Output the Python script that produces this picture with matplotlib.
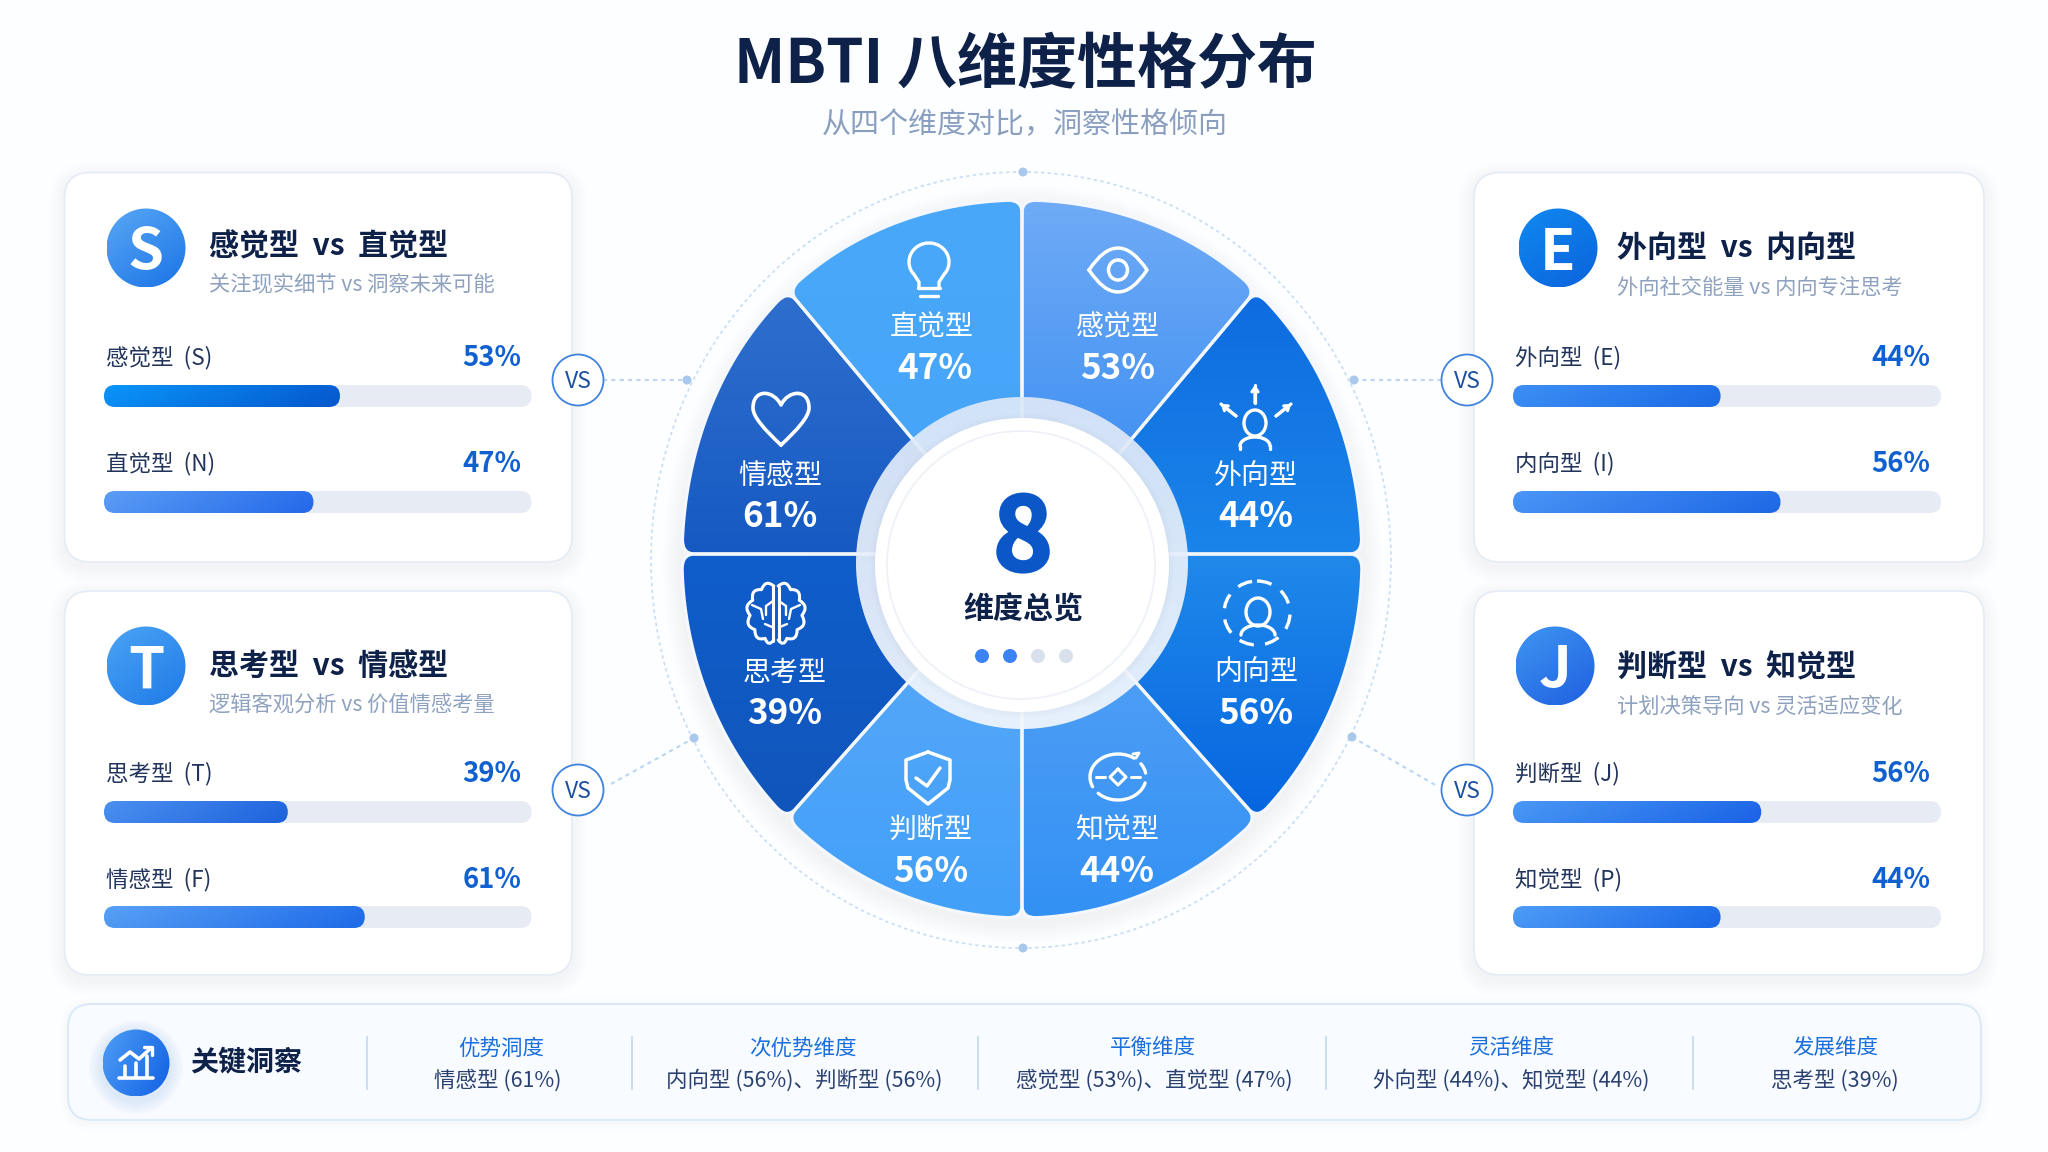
import matplotlib
matplotlib.use('Agg')
import matplotlib.pyplot as plt
import matplotlib.patheffects as pe
import numpy as np
from matplotlib.colors import to_rgb
from matplotlib.patches import Circle, Ellipse, FancyBboxPatch, PathPatch
from matplotlib.path import Path

plt.rcParams['font.family'] = ['Noto Sans CJK SC', 'DejaVu Sans']

# data
sector_names = ['感觉型', '外向型', '内向型', '知觉型', '判断型', '思考型', '情感型', '直觉型']
sector_vals = [53, 44, 56, 44, 56, 39, 61, 47]
sector_top = ['#6fabf6', '#0e6ce0', '#2089ea', '#5aa4f4', '#5caaf9', '#0f5ecb', '#2e6fcd', '#4aa8fa']
sector_bot = ['#2f86f1', '#1b86ea', '#0666e0', '#3391f5', '#42a0f8', '#1155bb', '#1558c2', '#45a4f8']

card_letters = ['S', 'T', 'E', 'J']
card_titles = ['感觉型  vs  直觉型', '思考型  vs  情感型', '外向型  vs  内向型', '判断型  vs  知觉型']
card_subs = ['关注现实细节 vs 洞察未来可能', '逻辑客观分析 vs 价值情感考量',
             '外向社交能量 vs 内向专注思考', '计划决策导向 vs 灵活适应变化']
row_labels = [['感觉型  (S)', '直觉型  (N)'], ['思考型  (T)', '情感型  (F)'],
              ['外向型  (E)', '内向型  (I)'], ['判断型  (J)', '知觉型  (P)']]
row_pcts = [[53, 47], [39, 61], [44, 56], [56, 44]]
# drawn bar lengths do not follow the printed percent exactly in the picture
row_fill = [[0.552, 0.49], [0.43, 0.61], [0.485, 0.625], [0.58, 0.485]]
row_c0 = [['#0a95fa', '#5b9df5'], ['#4a90f0', '#58a0f5'], ['#3d8ff5', '#4a95f6'], ['#4a98f5', '#4d9cf6']]
row_c1 = [['#0557cc', '#2468ea'], ['#1e62dc', '#1d6ae8'], ['#1b6be5', '#1e68e6'], ['#1a62e6', '#1a68e8']]
icon_c0 = ['#58a8f5', '#4ba4f4', '#1089f0', '#3f96f2']
icon_c1 = ['#1c74e6', '#1f7ae8', '#0b63dc', '#1f5fe0']

insight_heads = ['优势洞度', '次优势维度', '平衡维度', '灵活维度', '发展维度']
insight_vals = ['情感型 (61%)', '内向型 (56%)、判断型 (56%)', '感觉型 (53%)、直觉型 (47%)',
                '外向型 (44%)、知觉型 (44%)', '思考型 (39%)']

NAVY = '#0e2149'
W = 'white'

fig = plt.figure(figsize=(20.48, 11.52), dpi=100, facecolor='#fdfeff')
ax = fig.add_axes([0, 0, 1, 1])
ax.set_axis_off()


def px(size):
    return size * 0.72


def label(x, y, s, size, c, ha='center', bold=False, z=6):
    # Noto sits a little high when centred, push it down
    return ax.text(x, y + 3.5, s, color=c, fontsize=px(size), ha=ha, va='center', zorder=z,
                   fontweight='bold' if bold else 'normal')


def grad(patch, c0, c1, ang=90, z=3, alpha=1.0):
    # gradient image clipped to a patch, ang 90 = top to bottom
    patch.set(facecolor='none', edgecolor='none', zorder=z)
    ax.add_patch(patch)
    ext = patch.get_patch_transform().transform_path(patch.get_path()).get_extents()
    yy, xx = np.mgrid[0:1:64j, 0:1:64j]
    a = np.deg2rad(ang)
    t = xx * np.cos(a) + yy * np.sin(a)
    t = (t - t.min()) / (t.max() - t.min())
    c0, c1 = np.array(to_rgb(c0)), np.array(to_rgb(c1))
    img = c0 + (c1 - c0) * t[..., None]
    im = ax.imshow(img, extent=(ext.x0, ext.x1, ext.y1, ext.y0), aspect='auto',
                   interpolation='bilinear', zorder=z, alpha=alpha)
    im.set_clip_path(patch)


def rbox(x0, y0, x1, y1, r, **kw):
    return FancyBboxPatch((x0, y0), x1 - x0, y1 - y0, boxstyle=f'round,pad=0,rounding_size={r}', **kw)


def soft_box(x0, y0, x1, y1, r, color='#bccde6', n=10, spread=16, dy=5, a=0.011):
    for i in range(n, 0, -1):
        g = spread * i / n
        ax.add_patch(rbox(x0 - g, y0 - g + dy, x1 + g, y1 + g + dy, r + g, fc=color, ec='none', alpha=a, zorder=1))


def line(xs, ys, lw=2.6, c=W, z=6, **kw):
    ax.plot(xs, ys, color=c, lw=lw, zorder=z, solid_capstyle='round', solid_joinstyle='round', **kw)


def ring(x, y, rx, ry, lw=2.6, c=W, z=6, fc='none', **kw):
    ax.add_patch(Ellipse((x, y), 2 * rx, 2 * ry, fc=fc, ec=c, lw=lw, zorder=z, **kw))


def curve(verts, codes, lw=2.6, z=6):
    ax.add_patch(PathPatch(Path(verts, codes), fc='none', ec=W, lw=lw, zorder=z, capstyle='round', joinstyle='round'))


def arc(x, y, rx, ry, t0, t1, lw=2.6, c=W, z=6):
    t = np.deg2rad(np.linspace(t0, t1, 60))
    line(x + rx * np.cos(t), y - ry * np.sin(t), lw, c, z)


def shoulders(x, y, hw, top):
    t = np.deg2rad(np.linspace(180, 0, 30))
    line(x + hw * np.cos(t), (top + 9) - 9 * np.sin(t), 2.4)
    line([x - hw, x - hw], [top + 9, y], 2.4)
    line([x + hw, x + hw], [top + 9, y], 2.4)


def bulb(x, y):
    arc(x, y - 5, 20, 19, -35, 215, 2.4)
    line([x - 16, x - 10, x - 10], [y + 6, y + 15, y + 21], 2.4)
    line([x + 16, x + 10, x + 10], [y + 6, y + 15, y + 21], 2.4)
    line([x - 11, x + 11], [y + 21, y + 21], 2.4)
    line([x - 9, x + 9], [y + 29, y + 29], 2.4)


def eye(x, y):
    m, c = Path.MOVETO, Path.CURVE3
    curve([(x - 29, y), (x, y - 44), (x + 29, y), (x, y + 44), (x - 29, y)], [m, c, c, c, c], lw=2.5)
    ring(x, y, 9.5, 10, 2.5)


def person_out(x, y):
    ring(x, y - 4, 11, 13, 2.4)
    shoulders(x, y + 22, 15, y + 10)
    for x0, y0, x1, y1 in [(x, y - 24, x, y - 42), (x - 19, y - 11, x - 34, y - 23), (x + 21, y - 11, x + 36, y - 23)]:
        line([x0, x1], [y0, y1], 2.3)
        ax.annotate('', (x1, y1), (x0, y0), zorder=6,
                    arrowprops=dict(arrowstyle='->,head_width=0.22,head_length=0.3', color=W, lw=2.3, shrinkA=0, shrinkB=0))


def heart(x, y):
    m, c = Path.MOVETO, Path.CURVE4
    curve([(x, y + 25), (x - 16, y + 10), (x - 28, y - 3), (x - 28, y - 12), (x - 28, y - 32), (x - 7, y - 30),
           (x, y - 15), (x + 7, y - 30), (x + 28, y - 32), (x + 28, y - 12), (x + 28, y - 3), (x + 16, y + 10), (x, y + 25)],
          [m] + [c] * 12, lw=2.6)


def brain(x, y):
    for s in (-1, 1):
        angs = np.deg2rad(np.array([92, 60, 28, -5, -38, -70, -92]))
        xs = x + s * 3 + s * 23 * np.cos(angs)
        ys = y - 27 * np.sin(angs)
        v = [(xs[0], ys[0])]
        cd = [Path.MOVETO]
        for i in range(6):
            mid = (angs[i] + angs[i + 1]) / 2
            v += [(x + s * 3 + s * 31 * np.cos(mid), y - 35 * np.sin(mid)), (xs[i + 1], ys[i + 1])]
            cd += [Path.CURVE3, Path.CURVE3]
        curve(v, cd, lw=2.2)
        line([x + s * 3, x + s * 3], [y - 26, y + 28], 2.2)
        line([x + s * 3, x + s * 10, x + s * 10], [y - 12, y - 7, y + 2], 1.7)
        line([x + s * 24, x + s * 15, x + s * 13], [y - 8, y - 4, y + 6], 1.7)
        line([x + s * 4, x + s * 11], [y + 14, y + 11], 1.7)


def person_dash(x, y):
    ax.add_patch(Ellipse((x, y), 66, 64, fc='none', ec=W, lw=2.4, zorder=6, linestyle=(0, (4.5, 3.4))))
    ring(x + 1, y - 1, 12, 14, 2.4)
    arc(x + 1, y + 22, 17, 10, 180, 0, 2.4)


def shield(x, y):
    line([x, x + 22, x + 22, x + 20, x, x - 20, x - 22, x - 22, x],
         [y - 25, y - 17, y + 3, y + 11, y + 27, y + 11, y + 3, y - 17, y - 25], 2.5)
    line([x - 12, x - 1, x + 12], [y + 1, y + 9, y - 9], 2.5)


def compass(x, y):
    arc(x, y, 28, 23, 55, 205, 2.4)
    arc(x, y, 28, 23, 225, 345, 2.4)
    arc(x, y, 28, 23, 10, 35, 2.4)
    line([x + 18, x + 21, x + 15], [y - 19, y - 24, y - 23], 2.1)
    line([x, x + 8, x, x - 8, x], [y - 8, y, y + 8, y, y - 8], 2.2)
    line([x - 22, x - 13], [y, y], 2.2)
    line([x + 13, x + 22], [y, y], 2.2)


# outer dashed orbit
ax.add_patch(Ellipse((1021, 560), 740, 776, fc='none', ec='#c8dcf4', lw=1.2, ls=(0, (2, 2)), zorder=1))

# wheel shadow
CX, CY, RX, RY = 1022, 559, 340, 359
for i in range(12, 0, -1):
    g = 20 * i / 12
    ax.add_patch(Ellipse((CX, CY + 5), 2 * (RX + g), 2 * (RY + g), fc='#a9c6f0', ec='none', alpha=0.012, zorder=1))

# sector boundaries, clockwise from 12 o'clock
b_ang = [90, 47.4, 0.8, -46.3, -90, -133.7, -180.8, -227.4, -270]
b_apex = [559, 570, 554, 554, 559, 554, 554, 570, 559]


def E(t):
    t = np.deg2rad(t)
    # upper half of the wheel bulges a bit on the diagonals
    k = 1 + 0.016 * np.sin(2 * t) ** 2 if np.sin(t) > 0 else 1
    return np.array([CX + k * RX * np.cos(t), CY - k * RY * np.sin(t)])


def sector_path(i):
    a, b = b_ang[i], b_ang[i + 1]
    apex_a = np.array([CX, b_apex[i]], float)
    apex_b = np.array([CX, b_apex[i + 1]], float)
    Ea, Eb = E(a), E(b)
    ua = (apex_a - Ea) / np.linalg.norm(apex_a - Ea)
    ub = (apex_b - Eb) / np.linalg.norm(apex_b - Eb)
    d = 2.4
    ts = np.linspace(a - d, b + d, 50)
    v = [apex_a, Ea + ua * 13, Ea, E(a - d)] + [E(t) for t in ts[1:]] + [Eb, Eb + ub * 13, apex_b, apex_a]
    cd = [Path.MOVETO, Path.LINETO, Path.CURVE3, Path.CURVE3] + [Path.LINETO] * (len(ts) - 1) + \
         [Path.CURVE3, Path.CURVE3, Path.LINETO, Path.CLOSEPOLY]
    return Path(np.array(v), cd)


for i in range(8):
    p = sector_path(i)
    grad(PathPatch(p), sector_top[i], sector_bot[i], 90, z=3)
    ax.add_patch(PathPatch(p, fc='none', ec='#f4f8fe', lw=2.3, zorder=4))

# sector icons and labels, same order as sector_names
sector_lx = [1118, 1256, 1256, 1117, 931, 785, 780, 932]
sector_ly = [325, 473, 670, 828, 828, 670, 473, 325]
sector_icon = [(eye, 1118, 270), (person_out, 1255, 427), (person_dash, 1257, 613), (compass, 1118, 777),
               (shield, 928, 777), (brain, 776, 613), (heart, 781, 420), (bulb, 929, 267)]
for i in range(8):
    f, ix, iy = sector_icon[i]
    f(ix, iy)
    label(sector_lx[i], sector_ly[i] - 1, sector_names[i], 28, W)
    label(sector_lx[i] + (3 if i == 7 else 0), sector_ly[i] + 40, f'{sector_vals[i]}%', 35, W, bold=True)

# hub
grad(Circle((1022, 563), 166), '#dde8f8', '#f4f8fe', 90, z=7, alpha=0.93)
for i in range(6, 0, -1):
    ax.add_patch(Circle((1022, 566), 147 + i, fc='#c4d5ee', ec='none', alpha=0.02, zorder=7))
ax.add_patch(Circle((1022, 565), 147, fc='white', ec='none', zorder=8))
ax.add_patch(Circle((1021, 565), 134, fc='none', ec='#eef2f8', lw=1.3, zorder=8))
t8 = label(1023, 537, '8', 102, '#0b57c8', bold=True, z=9)
t8.set_path_effects([pe.withStroke(linewidth=2, foreground='#0b57c8')])
label(1023, 606, '维度总览', 30, NAVY, bold=True, z=9)
for x, c in zip([982, 1010, 1038, 1066], ['#3b82f6', '#3b82f6', '#d8e0ec', '#d8e0ec']):
    ax.add_patch(Circle((x, 656), 7, fc=c, ec='none', zorder=9))

# small dots on orbit and connectors to the VS badges
for x, y in [(1023, 172), (1023, 948), (687, 380), (1354, 380), (694, 738), (1352, 737)]:
    ax.add_patch(Circle((x, y), 4.5, fc='#a9c8ec', ec='none', zorder=2))
for xs, ys in [((603, 687), (380, 380)), ((1354, 1441), (380, 380)), ((611, 694), (784, 738)), ((1352, 1437), (737, 786))]:
    ax.plot(xs, ys, color='#bcd6f2', lw=1.5, ls=(0, (2, 2)), zorder=1)

# comparison cards: left column then right column
card_x = [(64.5, 572), (64.5, 572), (1474, 1984), (1474, 1984)]
card_y = [(172.5, 562), (591, 975), (172.5, 562), (591, 975)]
icon_xy = [(146, 248), (146, 666), (1558, 248), (1555, 666)]
title_x = [209, 209, 1617, 1617]
title_y = [243, 662, 244, 664]
sub_y = [281, 701, 284, 703]
track_x = [(104, 531.5), (104, 531.5), (1513, 1941), (1513, 1941)]
row_y = [(354, 460), (770, 876), (354, 460), (770, 876)]
track_y = [(385, 491), (801, 906), (385, 491), (801, 906)]
pct_x = [521, 521, 1930, 1930]
label_x = [106, 106, 1515, 1515]

for k in range(4):
    x0, x1 = card_x[k]
    y0, y1 = card_y[k]
    soft_box(x0, y0, x1, y1, 26)
    ax.add_patch(rbox(x0, y0, x1, y1, 26, fc='white', ec='#e6ecf6', lw=1.3, zorder=2))
    ix, iy = icon_xy[k]
    grad(Circle((ix, iy), 39.5), icon_c0[k], icon_c1[k], 55, z=3)
    label(ix, iy + 2, card_letters[k], 58, W, bold=True, z=4)
    label(title_x[k], title_y[k], card_titles[k], 30, NAVY, ha='left', bold=True, z=4)
    label(title_x[k], sub_y[k], card_subs[k], 21.3, '#8ea1bf', ha='left', z=4)
    tx0, tx1 = track_x[k]
    for j in range(2):
        label(label_x[k], row_y[k][j], row_labels[k][j], 22.5, '#22345c', ha='left', z=4)
        label(pct_x[k], row_y[k][j], f'{row_pcts[k][j]}%', 27.5, '#1160d0', ha='right', bold=True, z=4)
        ty = track_y[k][j]
        ax.add_patch(rbox(tx0, ty, tx1, ty + 22, 11, fc='#e7ebf3', ec='none', zorder=3))
        grad(rbox(tx0, ty, tx0 + (tx1 - tx0) * row_fill[k][j], ty + 22, 11), row_c0[k][j], row_c1[k][j], 10, z=4)

# VS badges
for x, y in [(578, 380), (1467, 380), (578, 790), (1467, 790)]:
    ax.add_patch(Circle((x, y), 25.5, fc='white', ec='#3f83e0', lw=1.3, zorder=5))
    label(x, y - 2, 'VS', 23, '#1d4f9f')

# insight strip
soft_box(68, 1004, 1981, 1120, 24, n=6, spread=9, dy=2, a=0.01)
ax.add_patch(rbox(68, 1004, 1981, 1120, 24, fc='#f8fbff', ec='#dbe8f8', lw=1.3, zorder=2))
for i in range(8, 0, -1):
    ax.add_patch(Circle((136, 1067), 34 + i * 1.6, fc='#8db8f3', ec='none', alpha=0.03, zorder=2))
grad(Circle((136, 1063), 33.5), '#4d9df5', '#1261e4', 25, z=3)
for x, t in zip([125, 136, 147], [1066, 1063, 1056]):
    line([x, x], [t, 1077], 2.6, z=4)
line([119, 153], [1077.5, 1077.5], 2.6, z=4)
line([120, 130, 139, 151], [1060, 1052, 1059, 1048], 2.6, z=4)
line([144, 152, 152], [1047, 1047, 1055], 2.4, z=4)
label(190, 1060, '关键洞察', 28, NAVY, ha='left', bold=True, z=4)
for x in [367, 632, 978, 1326, 1693]:
    ax.plot([x, x], [1037, 1089], color='#c3d7ef', lw=1.2, zorder=3)
for x, vx, h, v in zip([501, 803, 1153, 1511, 1835], [498, 804, 1154, 1511, 1835], insight_heads, insight_vals):
    label(x, 1045, h, 21.5, '#1a6fdc', z=4)
    label(vx, 1077, v, 21.5, '#2a4070', z=4)

# header
label(1025, 62, 'MBTI 八维度性格分布', 60, NAVY, bold=True, z=4)
label(1025, 122, '从四个维度对比，洞察性格倾向', 29, '#8a9fc0', z=4)

ax.set_xlim(0, 2048)
ax.set_ylim(1152, 0)
fig.savefig('out.png', dpi=100, facecolor=fig.get_facecolor())
